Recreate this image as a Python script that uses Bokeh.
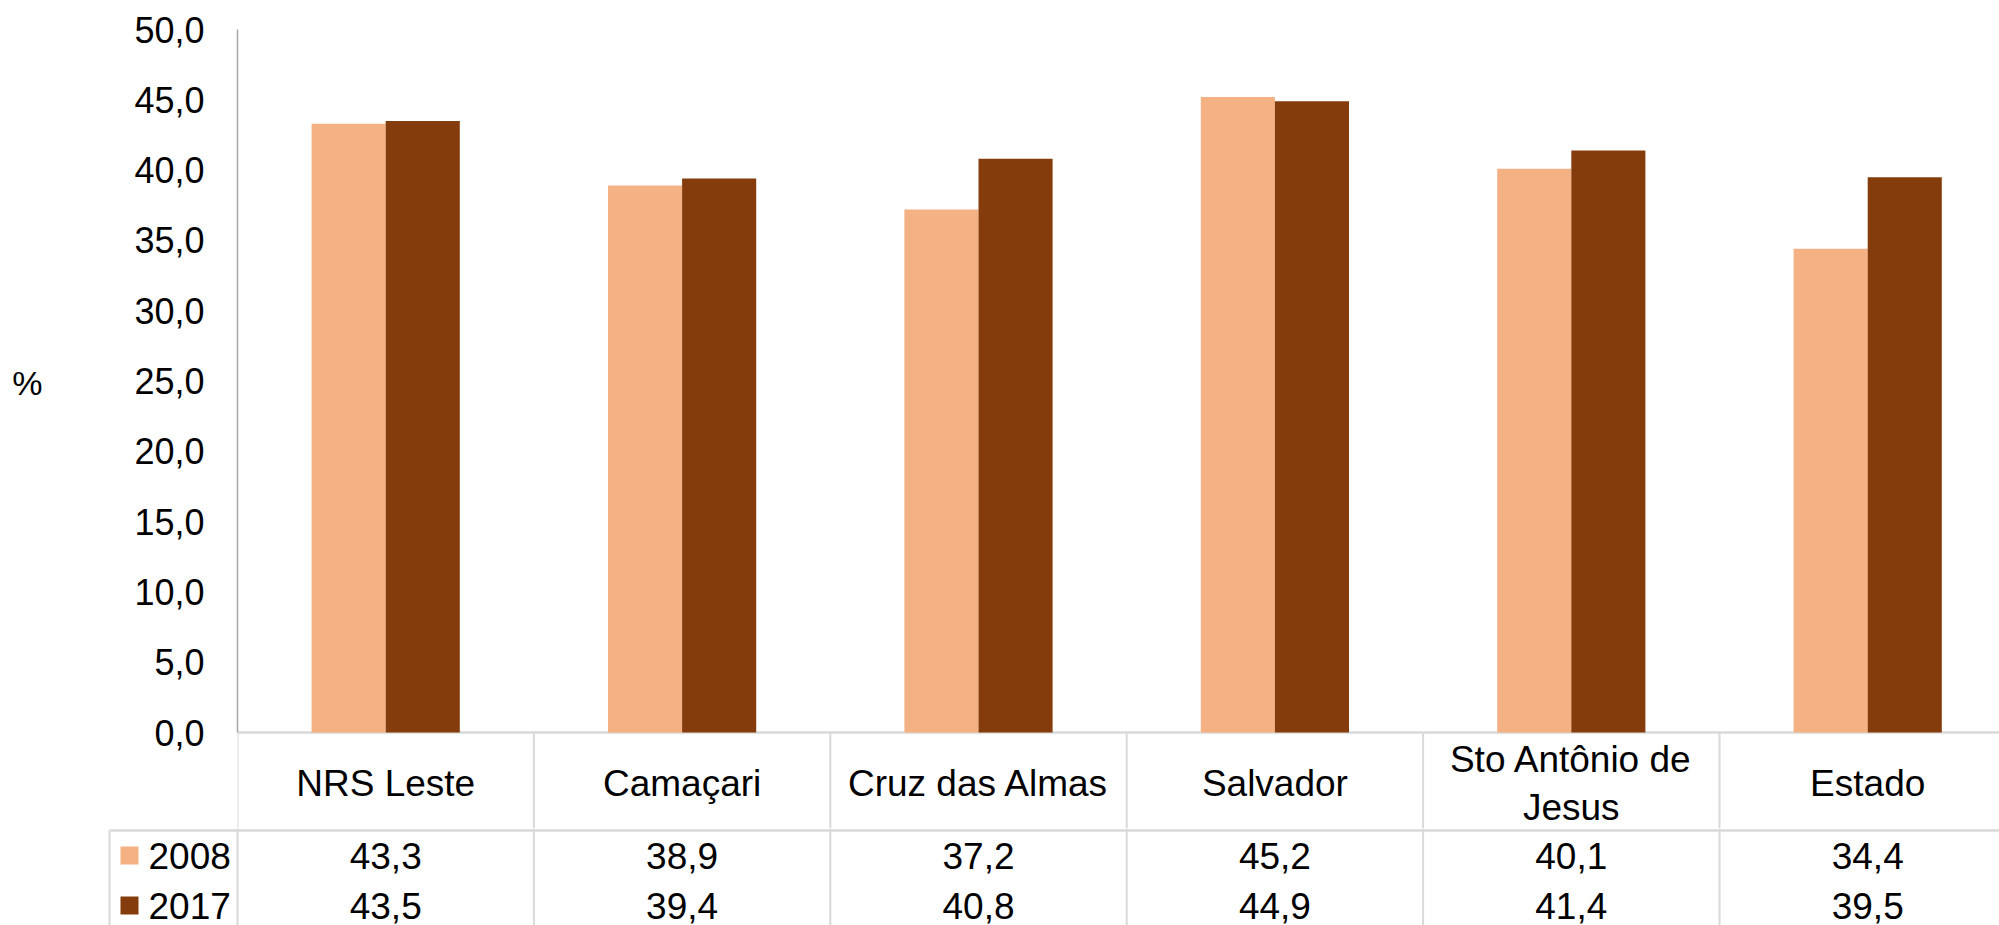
from bokeh.plotting import figure
from bokeh.layouts import column
from bokeh.models import Range1d, FixedTicker, CustomJSTickFormatter
from bokeh.embed import file_html
from bokeh.resources import INLINE
from bokeh.core.properties import value

# ---------------- data ----------------
categories = ["NRS Leste", "Camaçari", "Cruz das Almas", "Salvador",
              "Sto Antônio de\nJesus", "Estado"]
series = ["2008", "2017"]
values_2008 = [43.3, 38.9, 37.2, 45.2, 40.1, 34.4]
values_2017 = [43.5, 39.4, 40.8, 44.9, 41.4, 39.5]
colors = ["#F4B183", "#843C0C"]
y_ticks = [0, 5, 10, 15, 20, 25, 30, 35, 40, 45, 50]
y_label = "%"

# ---------------- layout constants (page pixels) ----------------
FONT = value("Liberation Sans")
FS_AX = "36px"
FS = "37px"
W = 1999
LEFT = 237            # frame left
CAT_PX = 296.4        # pixels per category
TOP = 29              # y = 50
BASE = 732            # y = 0
PX_UNIT = (BASE - TOP) / 50.0
P1_H = 828
P2_H = 925 - P1_H
GRID = "#d9d9d9"

def page_to_y(py):
    return (BASE - py) / PX_UNIT

x_end = (W - LEFT) / CAT_PX
y_bottom = page_to_y(P1_H)

n = len(categories)
centers = [i + 0.5 for i in range(n)]
bar_w = 0.25

def fmt(v):
    return f"{v:.1f}".replace(".", ",")

# ---------------- chart ----------------
p1 = figure(width=W, height=P1_H, x_range=Range1d(0, x_end),
            y_range=Range1d(y_bottom, 50), output_backend="svg",
            toolbar_location=None, x_axis_location=None,
            min_border_left=LEFT, min_border_right=0, min_border_top=TOP,
            min_border_bottom=0, outline_line_color=None)
p1.grid.visible = False

ya = p1.yaxis[0]
ya.ticker = FixedTicker(ticks=y_ticks)
ya.formatter = CustomJSTickFormatter(code="return tick.toFixed(1).replace('.', ',');")
ya.bounds = (0, 50)
ya.axis_line_color = "#a6a6a6"
ya.axis_line_width = 1.5
ya.major_tick_line_color = None
ya.minor_tick_line_color = None
ya.major_tick_out = 0
ya.major_tick_in = 0
ya.major_label_standoff = 33
ya.major_label_text_font = "Liberation Sans"
ya.major_label_text_font_size = FS_AX
ya.major_label_text_color = "#000000"
# the label is centred on the whole frame (which also holds the category row);
# two blank lines below it lift the "%" level with the middle of the value axis
ya.axis_label = y_label + "\n\u00a0\n\u00a0"
ya.axis_label_text_font = "Liberation Sans"
ya.axis_label_text_font_size = "34px"
ya.axis_label_text_font_style = "normal"
ya.axis_label_text_color = "#000000"
ya.axis_label_text_line_height = 1.2
ya.axis_label_standoff = 89
try:
    ya.axis_label_orientation = "horizontal"
except Exception:
    pass

# table grid lines below the baseline
p1.segment(x0=list(range(n + 1)), y0=[0] * (n + 1), x1=list(range(n + 1)),
           y1=[y_bottom] * (n + 1), line_color=GRID, line_width=2)
p1.segment(x0=[0], y0=[0], x1=[n], y1=[0], line_color=GRID, line_width=2.5)

p1.vbar(x=[c - bar_w / 2 for c in centers], top=values_2008, width=bar_w,
        fill_color=colors[0], line_color=None)
p1.vbar(x=[c + bar_w / 2 for c in centers], top=values_2017, width=bar_w,
        fill_color=colors[1], line_color=None)

# category row of the table
p1.text(x=centers, y=[page_to_y(783)] * n, text=categories, text_align="center",
        text_baseline="middle", text_font=FONT, text_font_size=FS,
        text_color="#000000", text_line_height=1.17)

# ---------------- data table (value rows) ----------------
x_start = -LEFT / CAT_PX
p2 = figure(width=W, height=P2_H, x_range=Range1d(x_start, x_end),
            y_range=Range1d(925, P1_H), output_backend="svg",
            toolbar_location=None, x_axis_location=None, y_axis_location=None,
            min_border_left=0, min_border_right=0, min_border_top=0,
            min_border_bottom=0, outline_line_color=None)
p2.grid.visible = False

for p in (p1, p2):
    try:
        p.frame_align = False
    except Exception:
        pass

ROW_LINE = 830
ROW_2008 = 855
ROW_2017 = 905
LEG_LEFT = (109 - LEFT) / CAT_PX
SQ_X = (129 - LEFT) / CAT_PX
TXT_X = (148 - LEFT) / CAT_PX

p2.segment(x0=list(range(n + 1)), y0=[P1_H] * (n + 1), x1=list(range(n + 1)),
           y1=[925] * (n + 1), line_color=GRID, line_width=2)
p2.segment(x0=[LEG_LEFT], y0=[ROW_LINE], x1=[LEG_LEFT], y1=[925],
           line_color=GRID, line_width=2)
p2.segment(x0=[LEG_LEFT], y0=[ROW_LINE], x1=[n], y1=[ROW_LINE],
           line_color=GRID, line_width=2.5)

p2.text(x=centers, y=[ROW_2008] * n, text=[fmt(v) for v in values_2008],
        text_align="center", text_baseline="middle", text_font=FONT,
        text_font_size=FS, text_color="#000000")
p2.text(x=centers, y=[ROW_2017] * n, text=[fmt(v) for v in values_2017],
        text_align="center", text_baseline="middle", text_font=FONT,
        text_font_size=FS, text_color="#000000")

p2.scatter(x=[SQ_X, SQ_X], y=[ROW_2008, ROW_2017], marker="square", size=18,
           fill_color=colors, line_color=None)
p2.text(x=[TXT_X, TXT_X], y=[ROW_2008, ROW_2017], text=series,
        text_align="left", text_baseline="middle", text_font=FONT,
        text_font_size=FS, text_color="#000000")

layout = column(p1, p2, spacing=0)
open("out.html", "w").write(file_html(layout, INLINE))
